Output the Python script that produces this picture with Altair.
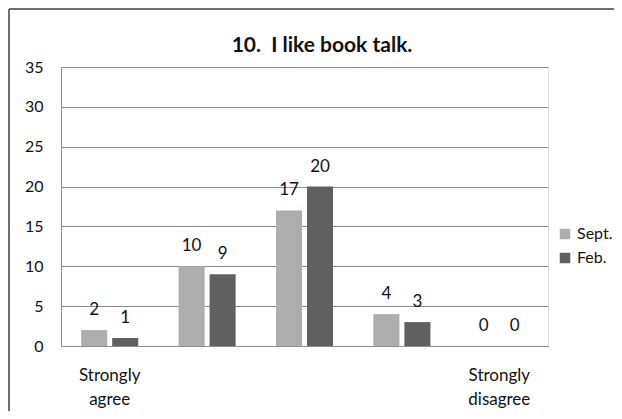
import altair as alt
import pandas as pd

# ---- data ----
cat_keys = ["c1", "c2", "c3", "c4", "c5"]
cat_labels = ["Strongly\nagree", "", "", "", "Strongly\ndisagree"]
series = ["Sept.", "Feb."]
sept = [2, 10, 17, 4, 0]
feb = [1, 9, 20, 3, 0]
colors = ["#adadad", "#606060"]
y_ticks = [0, 5, 10, 15, 20, 25, 30, 35]
title_text = "10.\u00a0 I like book talk."

rows = []
for k, s, f in zip(cat_keys, sept, feb):
    rows.append({"cat": k, "series": series[0], "value": s})
    rows.append({"cat": k, "series": series[1], "value": f})
df = pd.DataFrame(rows)

# label expression built from cat_labels
parts = []
for k, lab in zip(cat_keys, cat_labels):
    if lab:
        arr = "[" + ",".join("'" + p + "'" for p in lab.split("\n")) + "]"
        parts.append(f"datum.value == '{k}' ? {arr} : ")
label_expr = "".join(parts) + "''"

FONT = "Lato"
TXT = "#111111"

base = alt.Chart(df).encode(
    x=alt.X(
        "cat:N",
        sort=cat_keys,
        scale=alt.Scale(paddingInner=0, paddingOuter=0),
        axis=alt.Axis(
            title=None,
            labelExpr=label_expr,
            ticks=False,
            domain=True,
            domainColor="#8c8c8c",
            labelFontSize=17,
            labelPadding=21,
            labelAngle=0,
            labelLineHeight=24,
            labelColor=TXT,
            labelFont=FONT,
        ),
    ),
    xOffset=alt.XOffset(
        "series:N", sort=series, scale=alt.Scale(paddingInner=0.16, paddingOuter=0.65)
    ),
    y=alt.Y(
        "value:Q",
        scale=alt.Scale(domain=[0, 35], nice=False),
        axis=alt.Axis(
            title=None,
            values=y_ticks,
            ticks=False,
            grid=True,
            gridColor="#8c8c8c",
            domain=True,
            domainColor="#8c8c8c",
            labelFontSize=16,
            labelPadding=18,
            labelColor=TXT,
            labelFont=FONT,
        ),
    ),
)

bars = base.mark_bar().encode(
    color=alt.Color(
        "series:N",
        sort=series,
        scale=alt.Scale(domain=series, range=colors),
        legend=alt.Legend(
            title=None,
            orient="none",
            legendX=496,
            legendY=159,
            symbolType="square",
            symbolSize=110,
            symbolStrokeWidth=0,
            labelFontSize=16,
            labelFont=FONT,
            labelColor=TXT,
            labelOffset=4,
            rowPadding=8,
        ),
    )
)

labels = base.mark_text(
    dy=-15, baseline="alphabetic", fontSize=17, font=FONT, color=TXT
).encode(text="value:Q")

one = pd.DataFrame({"a": [0]})
frame_left = alt.Chart(one).mark_rule(color="#6e6e6e", strokeWidth=2).encode(
    x=alt.value(-52), y=alt.value(-58), y2=alt.value(344)
)
frame_top = alt.Chart(one).mark_rule(color="#6e6e6e", strokeWidth=2).encode(
    x=alt.value(-52), x2=alt.value(553), y=alt.value(-58)
)
title = alt.Chart(one).mark_text(
    text=title_text,
    font=FONT,
    fontSize=21,
    fontWeight="bold",
    color=TXT,
    align="center",
    baseline="alphabetic",
).encode(x=alt.value(261), y=alt.value(-15))

chart = (
    alt.layer(bars, labels, frame_left, frame_top, title)
    .properties(
        width=487,
        height=279,
        autosize=alt.AutoSizeParams(type="none"),
        padding={"left": 53, "top": 59, "right": 66, "bottom": 65},
    )
    .configure_view(stroke=None)
    .configure(background="white")
)

chart.save("out.html", embed_options={"renderer": "svg", "actions": False})
